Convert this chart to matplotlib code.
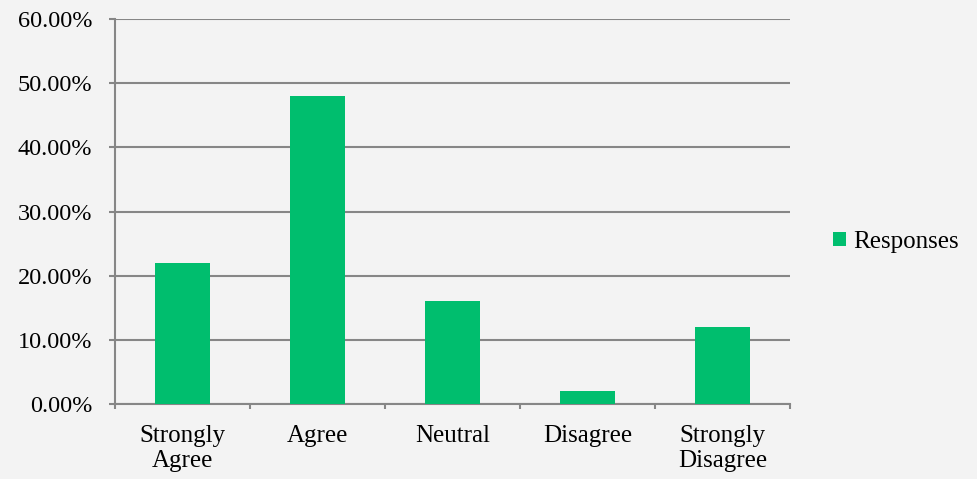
import matplotlib
matplotlib.use("Agg")
import matplotlib.pyplot as plt
from matplotlib.ticker import FuncFormatter, MultipleLocator
from matplotlib.patches import Patch

categories = ["Strongly\nAgree", "Agree", "Neutral", "Disagree", "Strongly\nDisagree"]
responses = [22, 48, 16, 2, 12]
series_name = "Responses"

bar_color = "#00BE6E"
grid_color = "#868686"
bg_color = "#F3F3F3"

plt.rcParams["font.family"] = ["Liberation Serif", "DejaVu Serif"]

fig = plt.figure(figsize=(9.78, 4.79), dpi=100, facecolor=bg_color)
ax = fig.add_axes([0.1176, 0.1566, 0.690, 0.8037])
ax.set_facecolor("none")

x = list(range(len(categories)))
ax.bar(x, responses, width=0.41, color=bar_color, zorder=3)

ax.set_xlim(-0.5, len(categories) - 0.5)
ax.set_ylim(0, 60)
ax.yaxis.set_major_locator(MultipleLocator(10))
ax.yaxis.set_major_formatter(FuncFormatter(lambda v, _: f"{v:.2f}%"))
ax.grid(axis="y", color=grid_color, linewidth=1.5, zorder=1)

ax.set_xticks(x)
ax.set_xticklabels(categories, linespacing=1.2)
ax.set_xticks([i - 0.5 for i in range(len(categories) + 1)], minor=True)
ax.tick_params(axis="x", which="major", length=0, pad=15, labelsize=18)
ax.tick_params(axis="x", which="minor", length=3.5, width=1.5, color=grid_color, direction="out")
ax.tick_params(axis="y", length=4.5, width=1.5, color=grid_color, pad=12, labelsize=17.5)

for side in ("top", "right"):
    ax.spines[side].set_visible(False)
for side in ("left", "bottom"):
    ax.spines[side].set_color(grid_color)
    ax.spines[side].set_linewidth(1.5)

handles = [Patch(facecolor=bar_color, edgecolor="none", label=series_name)]
fig.legend(handles=handles, loc="center left", bbox_to_anchor=(0.829, 0.495),
           frameon=False, fontsize=18, handlelength=0.5, handleheight=0.5,
           handletextpad=0.3)

fig.savefig("out.png", dpi=100, facecolor=bg_color)
